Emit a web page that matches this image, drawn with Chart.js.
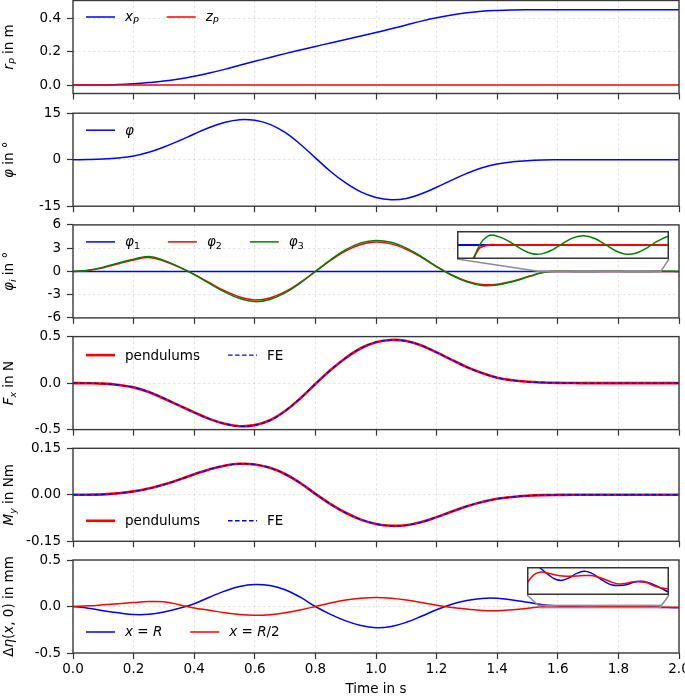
<!DOCTYPE html>
<html><head><meta charset="utf-8">
<script src="https://cdn.jsdelivr.net/npm/chart.js@4.4.1/dist/chart.umd.min.js"></script>
<style>
html,body{margin:0;padding:0;background:#fff;}
#wrap{position:relative;width:685px;height:699px;overflow:hidden;background:#fff;}
#wrap canvas{position:absolute;}
</style></head><body><div id="wrap"></div>
<script>
// ---------------- data ----------------
const time = [0,0.05,0.1,0.15,0.2,0.25,0.3,0.35,0.4,0.45,0.5,0.55,0.6,0.65,0.7,0.75,0.8,0.85,0.9,0.95,1,1.05,1.1,1.15,1.2,1.25,1.3,1.35,1.4,1.45,1.5,1.55,1.6,1.65,1.7,1.75,1.8,1.85,1.9,1.95,2];
const timeFine = [0,0.05,0.1,0.15,0.2,0.25,0.3,0.35,0.4,0.45,0.5,0.55,0.6,0.65,0.7,0.75,0.8,0.85,0.9,0.95,1,1.05,1.1,1.15,1.2,1.25,1.3,1.35,1.4,1.45,1.5,1.52,1.54,1.56,1.58,1.6,1.62,1.64,1.66,1.68,1.7,1.72,1.74,1.76,1.78,1.8,1.82,1.84,1.86,1.88,1.9,1.92,1.94,1.96,1.98,2];

const xP = [0,0.0002,0.001,0.003,0.008,0.015,0.024,0.037,0.053,0.072,0.094,0.118,0.142,0.165,0.188,0.21,0.231,0.252,0.272,0.293,0.314,0.336,0.359,0.382,0.402,0.419,0.432,0.441,0.446,0.449,0.45,0.45,0.45,0.45,0.45,0.45,0.45,0.45,0.45,0.45,0.45];
const zP = [0,0,0,0,0,0,0,0,0,0,0,0,0,0,0,0,0,0,0,0,0,0,0,0,0,0,0,0,0,0,0,0,0,0,0,0,0,0,0,0,0];

const phi = [0,0.05,0.2,0.55,1.2,2.4,4.1,6.1,8.3,10.4,12.0,12.9,12.7,11.4,8.8,5.0,0.6,-3.8,-7.5,-10.4,-12.2,-12.9,-12.5,-11.0,-8.9,-6.6,-4.4,-2.6,-1.4,-0.7,-0.3,-0.1,-0.03,0,0,0,0,0,0,0,0];

const phi1 = [0,0,0,0,0,0,0,0,0,0,0,0,0,0,0,0,0,0,0,0,0,0,0,0,0,0,0,0,0,0,0,0,0,0,0,0,0,0,0,0,0];
const phi2 = [0,0.12,0.48,0.98,1.47,1.78,1.35,0.55,-0.38,-1.45,-2.5,-3.3,-3.68,-3.42,-2.62,-1.42,0,1.42,2.65,3.48,3.78,3.55,2.84,1.8,0.6,-0.46,-1.27,-1.7,-1.65,-1.26,
  -0.7,-0.45,-0.22,-0.07,-0.01,0,0,0,0,0,0,0,0,0,0,0,0,0,0,0,0,0,0,0,0,0];
const phi3 = [0,0.15,0.55,1.08,1.58,1.92,1.42,0.58,-0.4,-1.55,-2.65,-3.5,-3.9,-3.62,-2.78,-1.5,0,1.5,2.8,3.68,4.0,3.75,3.0,1.9,0.62,-0.5,-1.35,-1.82,-1.75,-1.33,
  -0.74,-0.49,-0.25,-0.08,-0.006,0.02,0.0174,0.0064,-0.0078,-0.018,-0.019,-0.0103,0.0036,0.0158,0.02,0.0139,0.0007,-0.0128,-0.0198,-0.0166,-0.0051,0.0092,0.0187,0.0187,0.009,-0.005];

const fxPendulums = [0,-0.001,-0.006,-0.02,-0.046,-0.095,-0.165,-0.24,-0.315,-0.385,-0.437,-0.464,-0.452,-0.4,-0.3,-0.165,-0.01,0.14,0.27,0.375,0.44,0.464,0.452,0.405,0.33,0.25,0.172,0.108,0.058,0.03,0.014,0.006,0.002,0.0005,0,0,0,0,0,0,0];
const fxFE = [0,-0.001,-0.006,-0.02,-0.046,-0.095,-0.165,-0.24,-0.315,-0.385,-0.437,-0.464,-0.452,-0.4,-0.3,-0.165,-0.01,0.14,0.27,0.375,0.44,0.464,0.452,0.405,0.33,0.25,0.172,0.108,0.058,0.03,0.014,0.006,0.002,0.0005,0,0,0,0,0,0,0];

const myPendulums = [0,0.0003,0.0015,0.005,0.011,0.02,0.033,0.049,0.066,0.082,0.094,0.1,0.098,0.087,0.067,0.038,0.003,-0.03,-0.058,-0.08,-0.094,-0.1,-0.098,-0.088,-0.072,-0.054,-0.037,-0.023,-0.013,-0.007,-0.003,-0.001,-0.0003,0,0,0,0,0,0,0,0];
const myFE = [0,0.0003,0.0015,0.005,0.011,0.02,0.033,0.049,0.066,0.082,0.094,0.1,0.098,0.087,0.067,0.038,0.003,-0.03,-0.058,-0.08,-0.094,-0.1,-0.098,-0.088,-0.072,-0.054,-0.037,-0.023,-0.013,-0.007,-0.003,-0.001,-0.0003,0,0,0,0,0,0,0,0];

const etaR = [0,-0.018,-0.045,-0.068,-0.086,-0.084,-0.06,-0.02,0.03,0.1,0.165,0.215,0.237,0.225,0.18,0.1,0,-0.085,-0.155,-0.205,-0.228,-0.215,-0.17,-0.105,-0.035,0.025,0.064,0.087,0.088,0.07,
  0.045,0.034,0.024,0.016,0.0105,0.0055,0.0015,0.0006,0.003,0.0065,0.0083,0.007,0.0032,-0.0008,-0.0035,-0.0039,-0.0032,-0.001,-0.0002,-0.0012,-0.0036,-0.0065,-0.0097,-0.012,-0.013,-0.013];
const etaR2 = [0,0.007,0.018,0.03,0.043,0.053,0.05,0.02,-0.015,-0.04,-0.068,-0.087,-0.094,-0.088,-0.068,-0.037,0,0.038,0.07,0.09,0.097,0.09,0.07,0.043,0.014,-0.01,-0.028,-0.042,-0.045,-0.035,
  -0.02,-0.012,-0.002,0.0055,0.0077,0.0066,0.0052,0.0042,0.0041,0.0043,0.0047,0.0047,0.0035,0.0013,-0.0012,-0.0026,-0.002,-0.0006,-0.0008,-0.0017,-0.0045,-0.006,-0.0068,-0.007,-0.007,-0.0068];

// tick values and labels
const xTicks = [0,0.2,0.4,0.6,0.8,1.0,1.2,1.4,1.6,1.8,2.0];
const xTickLabels = ['0.0','0.2','0.4','0.6','0.8','1.0','1.2','1.4','1.6','1.8','2.0'];
const y1Ticks = [0,0.2,0.4],        y1Labels = ['0.0','0.2','0.4'];
const y2Ticks = [-15,0,15],         y2Labels = ['-15','0','15'];
const y3Ticks = [-6,-3,0,3,6],      y3Labels = ['-6','-3','0','3','6'];
const y4Ticks = [-0.5,0,0.5],       y4Labels = ['-0.5','0.0','0.5'];
const y5Ticks = [-0.15,0,0.15],     y5Labels = ['-0.15','0.00','0.15'];
const y6Ticks = [-0.5,0,0.5],       y6Labels = ['-0.5','0.0','0.5'];

// ---------------- layout / style ----------------
const FAM = '"DejaVu Sans", sans-serif';
const FS = 13.5;
const PANEL_TOPS = [0.5, 113.2, 224.9, 336.6, 448.3, 560];
const PANEL_H = 93;
const TL = 6;
const BLUE = '#0000ff', RED = '#ff0000', GREEN = '#008000';
const wrap = document.getElementById('wrap');

function segFont(s, size){ const sz = s.sub ? size*0.7 : size; return (s.i ? 'italic ' : '') + sz.toFixed(2) + 'px ' + FAM; }
function drawRich(ctx, segs, x, baseY, size){
  let cx = x;
  ctx.save(); ctx.fillStyle = '#000'; ctx.textBaseline = 'alphabetic'; ctx.textAlign = 'left';
  for (const s of segs){ ctx.font = segFont(s, size); ctx.fillText(s.t, cx, baseY + (s.sub ? size*0.22 : 0)); cx += ctx.measureText(s.t).width; }
  ctx.restore(); return cx - x;
}
function richWidth(ctx, segs, size){ let w = 0; ctx.save(); for (const s of segs){ ctx.font = segFont(s, size); w += ctx.measureText(s.t).width; } ctx.restore(); return w; }

function xy(ts, vs){ return ts.map((t,i)=>({x:t, y:vs[i]})); }
function ds(rich, ts, vs, color, width, dash, order){
  return {label: rich.map(s=>s.t).join(''), rich, data: xy(ts, vs), borderColor: color, backgroundColor: color,
    borderWidth: width, borderDash: dash || [], pointRadius: 0, fill: false, tension: 0.4, order};
}

function decor(cfg){
  return {
    id: 'decor',
    afterDatasetsDraw(chart){
      const ctx = chart.ctx, ca = chart.chartArea;
      const W = ca.right - ca.left, H = ca.bottom - ca.top;
      if (cfg.inset){
        const f = cfg.inset.box, xs = chart.scales.x, ys = chart.scales.y;
        const bx = Math.round(ca.left + f[0]*W), by = Math.round(ca.top + (1 - f[1] - f[3])*H);
        const bw = Math.round(f[2]*W), bh = Math.round(f[3]*H);
        const px0 = xs.getPixelForValue(cfg.inset.x[0]), px1 = xs.getPixelForValue(cfg.inset.x[1]);
        const pyT = ys.getPixelForValue(cfg.inset.y[1]), pyB = ys.getPixelForValue(cfg.inset.y[0]);
        ctx.save(); ctx.strokeStyle = '#8c8c8c'; ctx.lineWidth = 1.5; ctx.setLineDash([]);
        ctx.strokeRect(px0, pyT, px1 - px0, Math.max(pyB - pyT, 0.5));
        ctx.beginPath(); ctx.moveTo(bx, by + bh); ctx.lineTo(px0, (pyT+pyB)/2);
        ctx.moveTo(bx + bw, by + bh); ctx.lineTo(px1, (pyT+pyB)/2); ctx.stroke(); ctx.restore();
        cfg.inset.placed = {bx, by, bw, bh};
      }
      if (cfg.legend){
        let x = ca.left + 13; const y = ca.top + cfg.legend.dy;
        for (const i of cfg.legend.idx){
          const d = chart.data.datasets[i];
          ctx.save(); ctx.strokeStyle = d.borderColor; ctx.lineWidth = d.borderWidth; ctx.setLineDash(d.borderDash || []);
          ctx.beginPath(); ctx.moveTo(x, y); ctx.lineTo(x + 29, y); ctx.stroke(); ctx.restore();
          const w = drawRich(ctx, d.rich, x + 39, y + 4.4, FS);
          x = x + 39 + w + 28;
        }
      }
      ctx.save(); ctx.strokeStyle = '#3a3a3a'; ctx.lineWidth = 1.4; ctx.setLineDash([]);
      ctx.strokeRect(ca.left, ca.top, W, H); ctx.restore();
    },
    afterDraw(chart){
      const ctx = chart.ctx, ca = chart.chartArea;
      const w = richWidth(ctx, cfg.title, FS);
      ctx.save(); ctx.translate(12.6, (ca.top + ca.bottom)/2); ctx.rotate(-Math.PI/2);
      drawRich(ctx, cfg.title, -w/2, 0, FS); ctx.restore();
    }
  };
}

function makePanel(p){
  const top = PANEL_TOPS[p.k];
  const canvasTop = Math.floor(top) - 9;
  const padTop = top - canvasTop;
  const H = p.showX ? (699 - canvasTop) : Math.ceil(padTop + PANEL_H + 8);
  const xAxisH = H - padTop - PANEL_H;
  const cv = document.createElement('canvas');
  cv.width = 685; cv.height = H; cv.style.left = '0px'; cv.style.top = canvasTop + 'px';
  cv.style.width = '685px'; cv.style.height = H + 'px';
  wrap.appendChild(cv);
  const grid = {color: 'rgba(0,0,0,0.14)', lineWidth: 0.8, tickLength: TL, tickColor: '#333', tickWidth: 1.2, drawTicks: true};
  const chart = new Chart(cv, {
    type: 'line',
    data: {datasets: p.datasets},
    options: {
      responsive: false, animation: false, events: [],
      layout: {padding: {top: padTop, right: 6, left: 0, bottom: 0}},
      plugins: {legend: {display: false}, tooltip: {enabled: false}},
      scales: {
        x: {type: 'linear', min: 0, max: 2,
          afterBuildTicks: s => { s.ticks = xTicks.map(v => ({value: v})); },
          afterFit: s => { s.height = xAxisH; s.paddingLeft = 0; s.paddingRight = 0; },
          ticks: {display: p.showX, autoSkip: false, maxRotation: 0, padding: 2, color: '#000', font: {family: FAM, size: FS},
                  callback: (v, i) => xTickLabels[i]},
          grid: grid, border: {display: false, dash: [2.5, 2.5]},
          title: {display: p.showX, text: 'Time in s', color: '#000', font: {family: FAM, size: FS}, padding: {top: 0, bottom: 1}}
        },
        y: {type: 'linear', min: p.yMin, max: p.yMax,
          afterBuildTicks: s => { s.ticks = p.yTicks.map(v => ({value: v})); },
          afterFit: s => { s.width = 73; s.paddingTop = 0; s.paddingBottom = 0; },
          ticks: {autoSkip: false, padding: 6, color: '#000', font: {family: FAM, size: FS},
                  callback: (v, i) => p.yLabels[i]},
          grid: grid, border: {display: false, dash: [2.5, 2.5]}
        }
      }
    },
    plugins: [decor(p)]
  });
  if (p.inset){
    const pl = p.inset.placed;
    const ic = document.createElement('canvas');
    ic.width = pl.bw; ic.height = pl.bh; ic.style.left = pl.bx + 'px'; ic.style.top = (canvasTop + pl.by) + 'px';
    ic.style.width = pl.bw + 'px'; ic.style.height = pl.bh + 'px';
    wrap.appendChild(ic);
    new Chart(ic, {
      type: 'line',
      data: {datasets: p.inset.datasets},
      options: {
        responsive: false, animation: false, events: [],
        layout: {padding: 0},
        plugins: {legend: {display: false}, tooltip: {enabled: false}},
        scales: {x: {type: 'linear', display: false, min: p.inset.x[0], max: p.inset.x[1]},
                 y: {type: 'linear', display: false, min: p.inset.y[0], max: p.inset.y[1]}}
      },
      plugins: [{
        id: 'insetFrame',
        beforeDraw(c){ const ctx = c.ctx; ctx.save(); ctx.fillStyle = '#fff'; ctx.fillRect(0, 0, c.width, c.height); ctx.restore(); },
        afterDatasetsDraw(c){ const ctx = c.ctx; ctx.save(); ctx.strokeStyle = '#333'; ctx.lineWidth = 1.5; ctx.strokeRect(0.75, 0.75, c.width - 1.5, c.height - 1.5); ctx.restore(); }
      }]
    });
  }
  return chart;
}

const S = (t, i, sub) => ({t, i: !!i, sub: !!sub});

makePanel({k: 0, yMin: -0.05, yMax: 0.505, yTicks: y1Ticks, yLabels: y1Labels,
  title: [S('r',1), S('P',1,1), S(' in m')],
  datasets: [ds([S('x',1), S('P',1,1)], time, xP, BLUE, 1.5, null, 0),
             ds([S('z',1), S('P',1,1)], time, zP, RED, 1.5, null, -1)],
  legend: {dy: 16.5, idx: [0,1]}});

makePanel({k: 1, yMin: -15, yMax: 15, yTicks: y2Ticks, yLabels: y2Labels,
  title: [S('φ',1), S(' in °')],
  datasets: [ds([S('φ',1)], time, phi, BLUE, 1.5, null, 0)],
  legend: {dy: 17, idx: [0]}});

makePanel({k: 2, yMin: -6, yMax: 6, yTicks: y3Ticks, yLabels: y3Labels,
  title: [S('φ',1), S('i',1,1), S(' in °')],
  datasets: [ds([S('φ',1), S('1',0,1)], time, phi1, BLUE, 1.5, null, 0),
             ds([S('φ',1), S('2',0,1)], timeFine, phi2, RED, 1.5, null, -1),
             ds([S('φ',1), S('3',0,1)], timeFine, phi3, GREEN, 1.5, null, -2)],
  legend: {dy: 17, idx: [0,1,2]},
  inset: {box: [0.633, 0.63, 0.35, 0.30], x: [1.54, 1.94], y: [-0.03, 0.03],
    datasets: [ds([S('φ1')], time, phi1, BLUE, 1.8, null, 0),
               ds([S('φ2')], timeFine, phi2, RED, 1.8, null, -1),
               ds([S('φ3')], timeFine, phi3, GREEN, 1.5, null, -2)]}});

makePanel({k: 3, yMin: -0.5, yMax: 0.5, yTicks: y4Ticks, yLabels: y4Labels,
  title: [S('F',1), S('x',1,1), S(' in N')],
  datasets: [ds([S('pendulums')], time, fxPendulums, RED, 2.6, null, 0),
             ds([S('FE')], time, fxFE, BLUE, 1.4, [4.5, 2.5], -1)],
  legend: {dy: 18.5, idx: [0,1]}});

makePanel({k: 4, yMin: -0.15, yMax: 0.15, yTicks: y5Ticks, yLabels: y5Labels,
  title: [S('M',1), S('y',1,1), S(' in Nm')],
  datasets: [ds([S('pendulums')], time, myPendulums, RED, 2.6, null, 0),
             ds([S('FE')], time, myFE, BLUE, 1.4, [4.5, 2.5], -1)],
  legend: {dy: 72.5, idx: [0,1]}});

makePanel({k: 5, showX: true, yMin: -0.5, yMax: 0.5, yTicks: y6Ticks, yLabels: y6Labels,
  title: [S('Δ'), S('η',1), S('('), S('x',1), S(', 0) in mm')],
  datasets: [ds([S('x',1), S(' = '), S('R',1)], timeFine, etaR, BLUE, 1.5, null, 0),
             ds([S('x',1), S(' = '), S('R',1), S('/2')], timeFine, etaR2, RED, 1.5, null, -1)],
  legend: {dy: 72, idx: [0,1]},
  inset: {box: [0.749, 0.63, 0.234, 0.30], x: [1.54, 1.94], y: [-0.012, 0.012],
    datasets: [ds([S('R')], timeFine, etaR, BLUE, 1.5, null, 0),
               ds([S('R/2')], timeFine, etaR2, RED, 1.5, null, -1)]}});
</script></body></html>
